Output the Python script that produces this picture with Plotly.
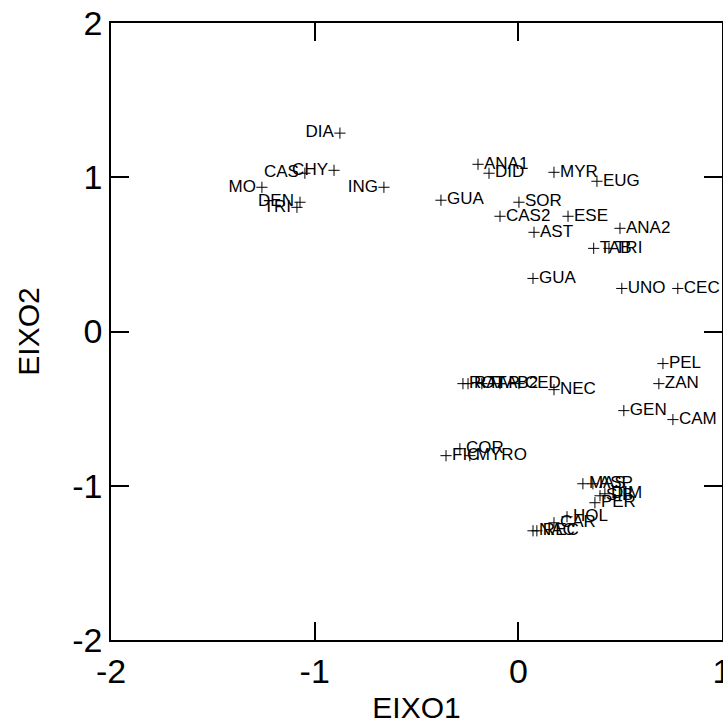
import plotly.graph_objects as go

# Ordination scores (axis 1 and axis 2) for each species code
names = [
    "DIA", "CHY", "CAS", "MO", "ING", "DEN", "TRI",
    "ANA1", "DID", "MYR", "EUG", "GUA", "SOR", "CAS2", "ESE", "AST",
    "TAB", "TRI", "ANA2", "UNO", "CEC", "GUA",
    "PEL", "ZAN", "GEN", "CAM",
    "ROT", "RAT", "TAP", "AB2", "CED", "NEC",
    "FIC", "COR", "MYRO",
    "MAS", "ASP", "SIB", "DIM", "PER", "HOL", "CAR", "NAC", "REC",
]
eixo1 = [
    -0.876, -0.905, -1.048, -1.259, -0.660, -1.072, -1.087,
    -0.198, -0.144, 0.175, 0.386, -0.380, 0.003, -0.090, 0.244, 0.077,
    0.370, 0.445, 0.499, 0.508, 0.783, 0.072,
    0.710, 0.690, 0.518, 0.759,
    -0.272, -0.247, -0.179, -0.090, 0.003, 0.175,
    -0.355, -0.287, -0.238,
    0.317, 0.366, 0.401, 0.425, 0.376, 0.239, 0.175, 0.072, 0.091,
]
eixo2 = [
    1.286, 1.045, 1.026, 0.935, 0.935, 0.838, 0.805,
    1.084, 1.026, 1.032, 0.974, 0.851, 0.838, 0.747, 0.747, 0.643,
    0.539, 0.539, 0.669, 0.279, 0.279, 0.344,
    -0.208, -0.338, -0.513, -0.571,
    -0.338, -0.338, -0.338, -0.338, -0.338, -0.377,
    -0.805, -0.760, -0.805,
    -0.987, -0.987, -1.065, -1.052, -1.110, -1.201, -1.240, -1.292, -1.292,
]
x_ticks = [-2, -1, 0, 1]
y_ticks = [-2, -1, 0, 1, 2]

FONT = "Liberation Sans, Arial, Helvetica, sans-serif"

# labels for the left-hand group sit to the left of their marker
positions = ["middle left" if x < -0.5 else "middle right" for x in eixo1]

fig = go.Figure(
    go.Scatter(
        x=eixo1,
        y=eixo2,
        mode="markers+text",
        text=names,
        textposition=positions,
        textfont=dict(family=FONT, size=17, color="black"),
        marker=dict(symbol="cross-thin", size=8, line=dict(width=1, color="black"), color="black"),
        cliponaxis=True,
        hoverinfo="text",
    )
)

axis_style = dict(
    showgrid=False,
    zeroline=False,
    showline=True,
    linecolor="black",
    linewidth=1.5,
    mirror="ticks",
    ticks="inside",
    ticklen=18,
    tickwidth=1.5,
    tickcolor="black",
    tickfont=dict(family=FONT, size=34, color="black"),
    ticklabeloverflow="allow",
)

fig.update_xaxes(
    range=[-2, 1], tickvals=x_ticks, ticktext=[str(v) for v in x_ticks],
    title=dict(text="EIXO1", font=dict(family=FONT, size=30, color="black"), standoff=8),
    automargin="bottom",
    **axis_style,
)
fig.update_yaxes(
    range=[-2, 2], tickvals=y_ticks, ticktext=[str(v) for v in y_ticks],
    title=dict(text="EIXO2", font=dict(family=FONT, size=30, color="black"), standoff=24),
    automargin="left",
    **axis_style,
)

fig.update_layout(
    width=723,
    height=727,
    margin=dict(l=111, r=1, t=23, b=87),
    plot_bgcolor="white",
    paper_bgcolor="white",
    showlegend=False,
)

fig.write_html("out.html")
